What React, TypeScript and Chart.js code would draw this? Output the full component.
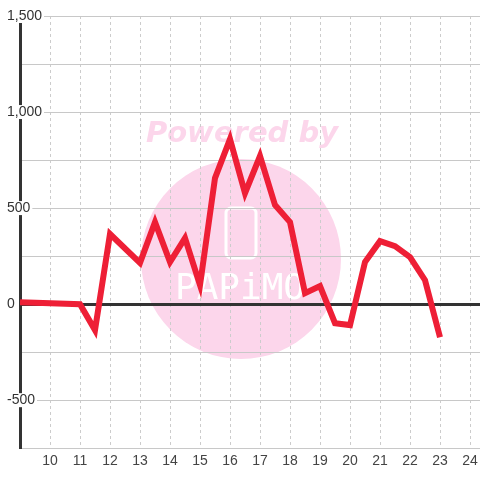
import React, { useEffect, useRef } from "react";
import { Chart, registerables } from "chart.js";

Chart.register(...registerables);

const xValues = [9, 11, 11.5, 12, 13, 13.5, 14, 14.5, 15, 15.5, 16, 16.5, 17, 17.5, 18, 18.5, 19, 19.5, 20, 20.5, 21, 21.5, 22, 22.5, 23];
const yValues = [10, 0, -135, 365, 215, 427, 219, 344, 99, 656, 859, 578, 771, 516, 427, 57, 94, -99, -109, 219, 328, 302, 245, 125, -172];
const xTicks = [10, 11, 12, 13, 14, 15, 16, 17, 18, 19, 20, 21, 22, 23, 24];
const yLabelStep = 500;

const watermark = {
  id: "watermark",
  beforeDraw(chart: any) {
    const ctx = chart.ctx;
    ctx.save();
    ctx.fillStyle = "#fcd6eb";
    ctx.beginPath();
    ctx.arc(241, 259, 100, 0, Math.PI * 2);
    ctx.fill();
    ctx.font = "italic bold 29px 'DejaVu Sans', Verdana, sans-serif";
    ctx.fillStyle = "#fcd6eb";
    ctx.textAlign = "center";
    ctx.textBaseline = "middle";
    ctx.fillText("Powered by", 242, 134);
    ctx.strokeStyle = "#ffffff";
    ctx.lineWidth = 3;
    ctx.beginPath();
    ctx.roundRect(226, 208, 30, 50, 5);
    ctx.stroke();
    ctx.fillStyle = "#ffffff";
    ctx.font = "36px 'DejaVu Sans Mono', monospace";
    ctx.fillText("PAPiMO", 240, 290);
    ctx.restore();
  },
};

export default function App() {
  const ref = useRef<HTMLCanvasElement>(null);
  useEffect(() => {
    document.body.style.margin = "0";
    const chart = new Chart(ref.current!, {
      type: "line",
      data: {
        datasets: [
          {
            data: xValues.map((x, i) => ({ x, y: yValues[i] })),
            borderColor: "#ee1f36",
            borderWidth: 6,
            pointRadius: 0,
            fill: false,
            tension: 0,
            borderJoinStyle: "miter",
          },
        ],
      },
      options: {
        animation: false,
        responsive: false,
        layout: { padding: { left: 20, top: 16, right: 0, bottom: 5 } },
        plugins: { legend: { display: false }, tooltip: { enabled: false } },
        scales: {
          x: {
            type: "linear",
            min: 9,
            max: 24.333,
            afterBuildTicks: (axis: any) => {
              axis.ticks = [9, ...xTicks].map((v) => ({ value: v }));
            },
            afterFit: (s: any) => {
              s.paddingRight = 0;
              s.paddingLeft = 0;
            },
            ticks: {
              autoSkip: false,
              maxRotation: 0,
              padding: 5,
              color: "#444",
              font: { family: "'Liberation Sans', Arial, sans-serif", size: 14 },
              callback: (v: any) => (xTicks.includes(v) ? String(v) : ""),
            },
            grid: { color: "#cccccc", lineWidth: 1, drawTicks: false },
            border: { display: false, dash: [3, 3] },
          },
          y: {
            min: -750,
            max: 1500,
            afterFit: (s: any) => {
              s.width = 0;
              s.paddingTop = 0;
              s.paddingBottom = 0;
            },
            ticks: {
              stepSize: 250,
              mirror: true,
              padding: -13,
              color: "#333",
              font: { family: "'Liberation Sans', Arial, sans-serif", size: 14, lineHeight: 1 },
              showLabelBackdrop: (c: any) => c.tick && c.tick.value % yLabelStep === 0,
              backdropColor: "#ffffff",
              backdropPadding: { top: 0, bottom: 0, left: 1, right: 2 },
              callback: (v: any) => (v % yLabelStep === 0 ? Number(v).toLocaleString("en-US") : ""),
            },
            grid: {
              drawTicks: false,
              color: (c: any) => (c.tick && c.tick.value === 0 ? "#333333" : "#c8c8c8"),
              lineWidth: (c: any) => (c.tick && c.tick.value === 0 ? 3 : 1),
            },
            border: { display: true, color: "#333333", width: 3 },
          },
        },
      },
      plugins: [watermark],
    });
    return () => chart.destroy();
  }, []);
  return <canvas ref={ref} width={480} height={480} />;
}
